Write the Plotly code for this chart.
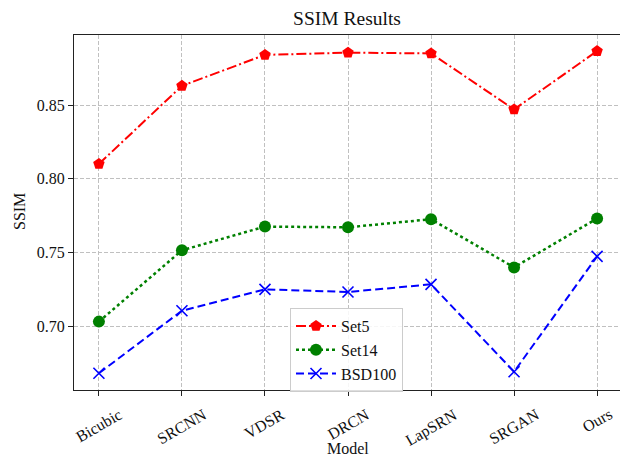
import plotly.graph_objects as go

models = ["Bicubic", "SRCNN", "VDSR", "DRCN", "LapSRN", "SRGAN", "Ours"]
set5 = [0.810, 0.863, 0.884, 0.8855, 0.885, 0.847, 0.8866]
set14 = [0.703, 0.7514, 0.7675, 0.767, 0.7725, 0.7398, 0.7730]
bsd100 = [0.668, 0.7104, 0.7249, 0.7231, 0.7283, 0.669, 0.7473]
y_ticks = [0.70, 0.75, 0.80, 0.85]

FONT = "Liberation Serif"
TXT = "#111"
x_idx = list(range(len(models)))

# page body has an 8px default margin; the figure is sized so it fills the window
OFF = 8
W, H = 628 - OFF, 460 - OFF
L, T = 74 - OFF, 35 - OFF
R, B = 6, 70
PH = H - T - B
PW = W - L - R
BOTTOM = 390  # page y of the plot bottom

fig = go.Figure()
fig.add_trace(go.Scatter(
    x=x_idx, y=set5, name="Set5", mode="lines+markers",
    line=dict(color="red", width=2, dash="10px,3px,2px,3px"),
    marker=dict(symbol="pentagon", size=12, color="red"),
))
fig.add_trace(go.Scatter(
    x=x_idx, y=set14, name="Set14", mode="lines+markers",
    line=dict(color="green", width=2.5, dash="dot"),
    marker=dict(symbol="circle", size=12, color="green"),
))
fig.add_trace(go.Scatter(
    x=x_idx, y=bsd100, name="BSD100", mode="lines+markers",
    line=dict(color="blue", width=2, dash="8px,4px"),
    marker=dict(symbol="x-thin", size=11, color="blue", line=dict(color="blue", width=1.6)),
))

annotations = [
    dict(text="Model", x=0.5, xref="paper", y=-(459 - BOTTOM) / PH, yref="paper",
         yanchor="bottom", showarrow=False, font=dict(family=FONT, size=16, color=TXT)),
    dict(text="SSIM", x=-(74 - 19) / PW, xref="paper", y=(BOTTOM - 212) / PH, yref="paper",
         textangle=-90, xanchor="center", yanchor="middle", showarrow=False,
         font=dict(family=FONT, size=16, color=TXT)),
]
# rotated, centred category labels (matplotlib style)
for i, name in enumerate(models):
    annotations.append(dict(
        text=name, x=i, xref="x", y=-(403 - BOTTOM) / PH, yref="paper",
        xanchor="center", yanchor="top", textangle=-30, showarrow=False,
        font=dict(family=FONT, size=16, color=TXT),
    ))

fig.update_layout(
    width=W, height=H,
    margin=dict(l=L, r=R, t=T, b=B, autoexpand=False),
    paper_bgcolor="white", plot_bgcolor="white",
    font=dict(family=FONT, size=16, color=TXT),
    title=dict(text="SSIM Results", x=(347 - OFF) / W, xanchor="center",
               y=1.0, yanchor="top", pad=dict(t=3, b=0, l=0, r=0),
               font=dict(family=FONT, size=19.5, color=TXT)),
    showlegend=True,
    legend=dict(x=(290 - 74) / PW, y=(BOTTOM - 308) / PH, xanchor="left", yanchor="top",
                bgcolor="rgba(255,255,255,0.85)", bordercolor="#cccccc", borderwidth=1,
                font=dict(family=FONT, size=16, color=TXT),
                itemwidth=40, tracegroupgap=0),
    annotations=annotations,
)
fig.update_xaxes(
    range=[-0.3, 6.3], tickmode="array", tickvals=x_idx, showticklabels=False,
    ticks="outside", ticklen=5, tickcolor="#222",
    showline=True, linecolor="#222", linewidth=1.2, mirror=True,
    showgrid=True, gridcolor="#c0c0c0", griddash="4px,2px", gridwidth=1,
    zeroline=False, automargin=False,
)
fig.update_yaxes(
    range=[0.6566, 0.8975], tickmode="array", tickvals=y_ticks,
    ticktext=[f"{v:.2f}" for v in y_ticks],
    ticks="outside", ticklen=5, tickcolor="#222",
    showline=True, linecolor="#222", linewidth=1.2, mirror=True,
    showgrid=True, gridcolor="#c0c0c0", griddash="4px,2px", gridwidth=1,
    zeroline=False, automargin=False,
    tickfont=dict(family=FONT, size=16, color=TXT),
)

fig.write_html("out.html")
